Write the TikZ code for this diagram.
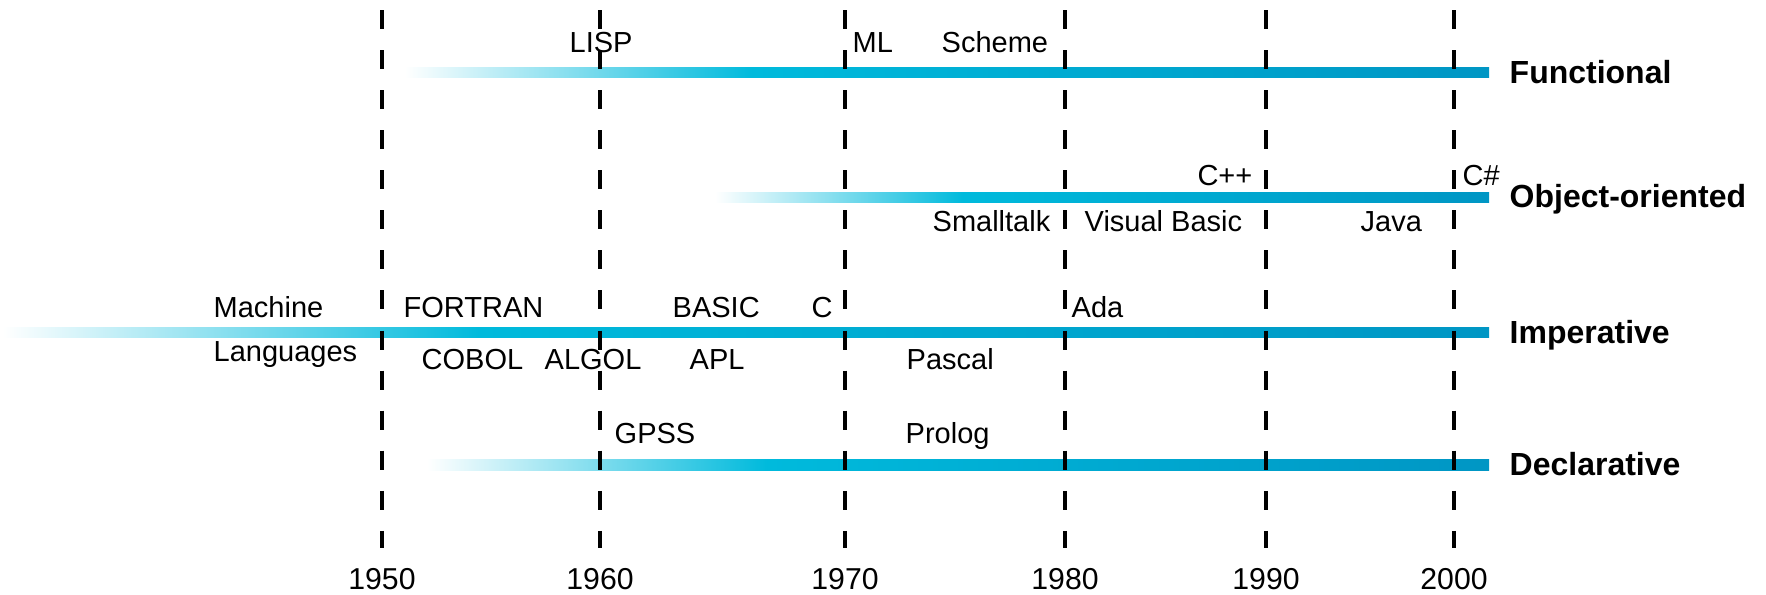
\documentclass[tikz,border=0pt]{standalone}
\usepackage{fontspec}
\setmainfont{Liberation Sans}
\usepackage{xcolor}
\usepackage{tikz}

\definecolor{barcyan}{RGB}{0,186,220}
\definecolor{barblue}{RGB}{0,150,196}
\pgfdeclarehorizontalshading{barshade}{100bp}{color(0bp)=(white); color(25bp)=(white); color(41bp)=(barcyan); color(75bp)=(barblue); color(100bp)=(barblue)}

\begin{document}
\begin{tikzpicture}[x=0.1mm,y=-0.1mm]
			\tikzstyle{lang} = [inner sep=0pt, anchor=base west, font=\fontsize{8.25}{10}\selectfont]
			\tikzstyle{paradigm} = [inner sep=0pt, anchor=base west, font=\fontsize{9.1}{11}\selectfont\bfseries]
			\tikzstyle{year} = [inner sep=0pt, anchor=base, font=\fontsize{8.6}{10}\selectfont]
			\tikzstyle{decade} = [line width=0.95pt, dash pattern=on 5.4pt off 6pt]
			\tikzset{bar/.style = {shading=barshade}}
			
			\useasboundingbox (0,0) rectangle (1766,594);
			
			\shade[bar] (405,67) rectangle (1489,77);
			\shade[bar] (715,192) rectangle (1489,202);
			\shade[bar] (3,327) rectangle (1489,337);
			\shade[bar] (427,459) rectangle (1489,470);
			
			\coordinate (t1950) at (382,10);
			\coordinate (b1950) at (382,548);
			\draw[decade] (t1950) -- (b1950);
			\node[year](y1950) at (382,589) {1950};
			
			\coordinate (t1960) at (600,10);
			\coordinate (b1960) at (600,548);
			\draw[decade] (t1960) -- (b1960);
			\node[year](y1960) at (600,589) {1960};
			
			\coordinate (t1970) at (845,10);
			\coordinate (b1970) at (845,548);
			\draw[decade] (t1970) -- (b1970);
			\node[year](y1970) at (845,589) {1970};
			
			\coordinate (t1980) at (1065,10);
			\coordinate (b1980) at (1065,548);
			\draw[decade] (t1980) -- (b1980);
			\node[year](y1980) at (1065,589) {1980};
			
			\coordinate (t1990) at (1266,10);
			\coordinate (b1990) at (1266,548);
			\draw[decade] (t1990) -- (b1990);
			\node[year](y1990) at (1266,589) {1990};
			
			\coordinate (t2000) at (1454,10);
			\coordinate (b2000) at (1454,548);
			\draw[decade] (t2000) -- (b2000);
			\node[year](y2000) at (1454,589) {2000};
			
			\node[lang](lisp) at (569,52) {LISP};
			\node[lang](ml) at (852,52) {ML};
			\node[lang](scheme) at (941,52) {Scheme};
			\node[paradigm](functional) at (1509,83) {Functional};
			
			\node[lang, anchor=base east](cpp) at (1253,185) {C++};
			\node[lang](csharp) at (1462,185) {C\#};
			\node[lang, anchor=base east](smalltalk) at (1051,231) {Smalltalk};
			\node[lang](vbasic) at (1084,231) {Visual Basic};
			\node[lang](java) at (1360,231) {Java};
			\node[paradigm](objoriented) at (1509,207) {Object-oriented};
			
			\node[lang](machine) at (213,317) {Machine};
			\node[lang](languages) at (213,361) {Languages};
			\node[lang](fortran) at (403,317) {FORTRAN};
			\node[lang](basic) at (672,317) {BASIC};
			\node[lang](c) at (811,317) {C};
			\node[lang](ada) at (1071,317) {Ada};
			\node[lang](cobol) at (421,369) {COBOL};
			\node[lang](algol) at (544,369) {ALGOL};
			\node[lang](apl) at (689,369) {APL};
			\node[lang](pascal) at (906,369) {Pascal};
			\node[paradigm](imperative) at (1509,343) {Imperative};
			
			\node[lang](gpss) at (614,443) {GPSS};
			\node[lang](prolog) at (905,443) {Prolog};
			\node[paradigm](declarative) at (1509,475) {Declarative};
			
			\end{tikzpicture}
\end{document}
